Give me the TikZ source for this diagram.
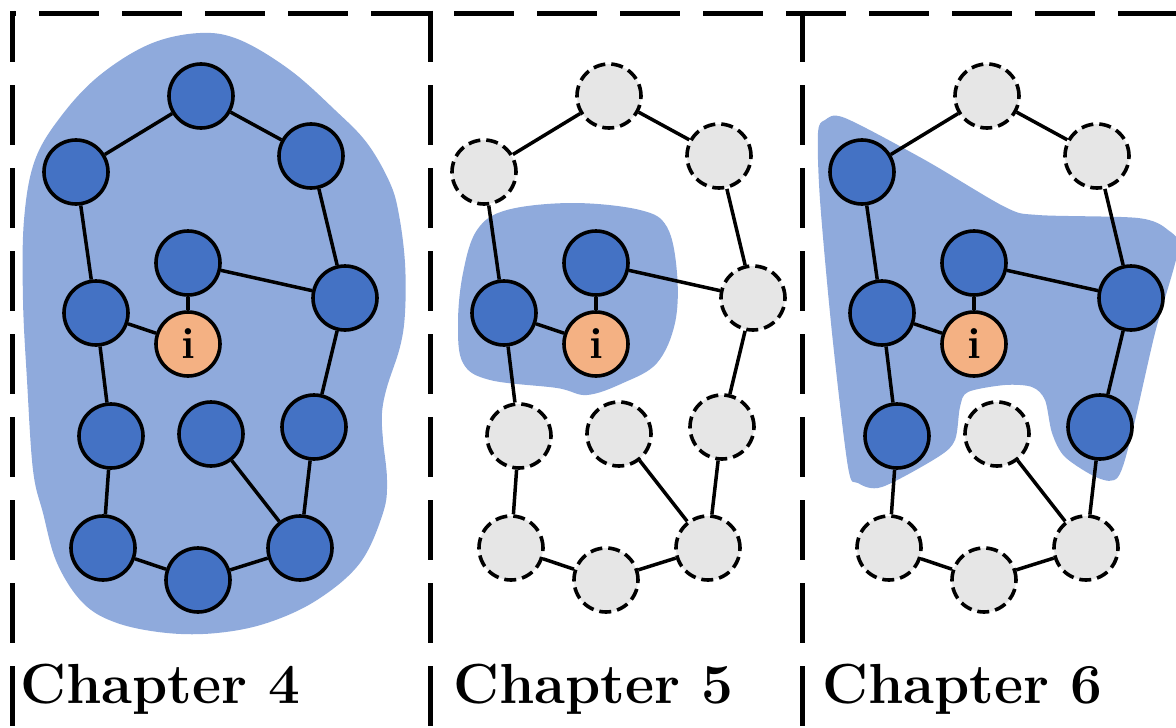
\documentclass[tikz,border=0pt]{standalone}
\definecolor{nodeblue}{HTML}{4472C4}
\definecolor{blobblue}{HTML}{8FAADC}
\definecolor{nodegrey}{HTML}{E6E6E6}
\definecolor{nodeorange}{HTML}{F4B183}

\begin{document}
\begin{tikzpicture}[x=1pt,y=-1pt,
  vert/.style={circle, minimum size=64pt, inner sep=0pt, line width=3.6pt, draw=black},
  nodeon/.style={vert, fill=nodeblue},
  nodeoff/.style={vert, fill=nodegrey, dash pattern=on 12pt off 6pt},
  nodeself/.style={vert, fill=nodeorange, font=\fontsize{44}{44}\selectfont\bfseries},
  link/.style={line width=3.5pt},
  frameline/.style={line width=5pt, dash pattern=on 60pt off 23pt},
  blob/.style={fill=blobblue, draw=none},
  chaptitle/.style={anchor=base west, inner sep=0pt, font=\fontsize{56.5}{60}\selectfont\bfseries}]

\useasboundingbox (0,0) rectangle (1176,728);

% dashed frame
\draw[frameline, dash phase=54pt] (10,13) -- (1176,13);
\draw[frameline, dash phase=8.5pt] (12,10.5) -- (12,728);
\draw[frameline, dash phase=8.5pt] (430,10.5) -- (430,728);
\draw[frameline, dash phase=8.5pt] (802,10.5) -- (802,728);

% coverage regions
\fill[blob] plot[smooth cycle, tension=0.6] coordinates {
  (200,33) (240,40) (290,70) (335,110) (367,143) (390,183) (399,215)
  (405,263) (405,313) (400,347) (387,387) (382,413) (383,440) (387,480)
  (383,513) (360,563) (317,600) (267,623) (217,633) (167,633) (117,623)
  (83,603) (57,563) (43,513) (33,470) (27,380) (23,300) (24,220)
  (35,160) (62,115) (100,75) (150,44)};

\fill[blob] plot[smooth cycle, tension=0.6] coordinates {
  (507,210) (573,203) (640,210) (667,227) (677,273) (675,323) (657,363)
  (623,383) (587,395) (557,388) (490,380) (463,363) (458,323) (463,273)
  (477,230)};

\fill[blob] plot[smooth cycle, tension=0.5] coordinates {
  (825,120) (845,118) (925,160) (1005,207) (1038,215) (1138,218) (1168,230)
  (1178,250) (1155,333) (1132,433) (1118,477) (1098,478) (1065,457)
  (1052,433) (1045,400) (1032,387) (1005,385) (968,392) (960,407)
  (955,440) (938,457) (882,487) (858,483) (848,467) (832,333) (820,200)
  (818,133)};

% chapter 4: everything covered
\begin{scope}
\node[nodeon] (p1a) at (201,96) {};
\node[nodeon] (p1b) at (76,172) {};
\node[nodeon] (p1c) at (311,156) {};
\node[nodeon] (p1d) at (188,263) {};
\node[nodeon] (p1e) at (345,298) {};
\node[nodeon] (p1f) at (96,313) {};
\node[nodeself] (p1i) at (188,344) {i};
\node[nodeon] (p1g) at (111,436) {};
\node[nodeon] (p1h) at (211,434) {};
\node[nodeon] (p1j) at (314,427) {};
\node[nodeon] (p1k) at (103,548) {};
\node[nodeon] (p1l) at (198,580) {};
\node[nodeon] (p1m) at (300,548) {};
\end{scope}

% chapter 5: one-hop neighbourhood
\begin{scope}[shift={(408,0)}]
\node[nodeoff] (p2a) at (201,96) {};
\node[nodeoff] (p2b) at (76,172) {};
\node[nodeoff] (p2c) at (311,156) {};
\node[nodeon] (p2d) at (188,263) {};
\node[nodeoff] (p2e) at (345,298) {};
\node[nodeon] (p2f) at (96,313) {};
\node[nodeself] (p2i) at (188,344) {i};
\node[nodeoff] (p2g) at (111,436) {};
\node[nodeoff] (p2h) at (211,434) {};
\node[nodeoff] (p2j) at (314,427) {};
\node[nodeoff] (p2k) at (103,548) {};
\node[nodeoff] (p2l) at (198,580) {};
\node[nodeoff] (p2m) at (300,548) {};
\end{scope}

% chapter 6: two-hop neighbourhood
\begin{scope}[shift={(786,0)}]
\node[nodeoff] (p3a) at (201,96) {};
\node[nodeon] (p3b) at (76,172) {};
\node[nodeoff] (p3c) at (311,156) {};
\node[nodeon] (p3d) at (188,263) {};
\node[nodeon] (p3e) at (345,298) {};
\node[nodeon] (p3f) at (96,313) {};
\node[nodeself] (p3i) at (188,344) {i};
\node[nodeon] (p3g) at (111,436) {};
\node[nodeoff] (p3h) at (211,434) {};
\node[nodeon] (p3j) at (314,427) {};
\node[nodeoff] (p3k) at (103,548) {};
\node[nodeoff] (p3l) at (198,580) {};
\node[nodeoff] (p3m) at (300,548) {};
\end{scope}

% graph edges
\foreach \p in {p1,p2,p3}
  \foreach \a/\b in {a/b,a/c,b/f,c/e,d/e,d/i,f/i,f/g,e/j,g/k,k/l,l/m,m/j,h/m}
    \draw[link] (\p\a) -- (\p\b);

% titles
\node[chaptitle] (t4) at (20,703) {Chapter 4};
\node[chaptitle] (t5) at (453,703) {Chapter 5};
\node[chaptitle] (t6) at (822,703) {Chapter 6};
\end{tikzpicture}
\end{document}
